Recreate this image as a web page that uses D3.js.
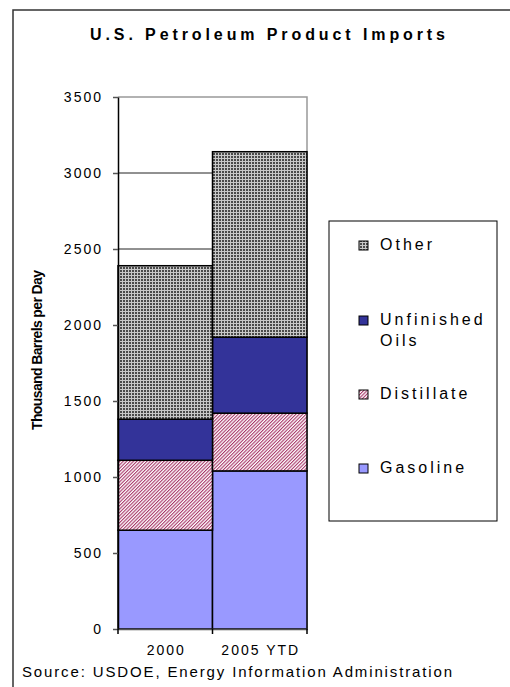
<!DOCTYPE html>
<html>
<head>
    <meta charset="utf-8">
    <script src="https://d3js.org/d3.v7.min.js"></script>
    <style>
        body { margin: 0; background: #fff; }
        text { font-family: Arial, "Liberation Sans", sans-serif; }
    </style>
</head>
<body>
    <svg id="chart" width="510" height="687"></svg>
    <script>
        var svg = d3.select("#chart");

        // data (thousand barrels per day)
        var categories = ["2000", "2005 YTD"];
        var seriesNames = ["Gasoline", "Distillate", "Unfinished Oils", "Other"];
        var gasoline = [650, 1040];
        var distillate = [460, 380];
        var unfinished = [270, 500];
        var other = [1010, 1220];
        var yTicks = [0, 500, 1000, 1500, 2000, 2500, 3000, 3500];

        var rows = categories.map(function (c, i) {
            return { cat: c, "Gasoline": gasoline[i], "Distillate": distillate[i], "Unfinished Oils": unfinished[i], "Other": other[i] };
        });

        var plot = { left: 118, right: 307, top: 97, bottom: 629 };

        var x = d3.scaleBand().domain(categories).range([plot.left, plot.right]).padding(0);
        var y = d3.scaleLinear().domain([0, 3500]).range([plot.bottom, plot.top]);

        // fills: plain colours and two hatch patterns
        var defs = svg.append("defs");
        var grid = defs.append("pattern").attr("id", "pOther")
            .attr("width", 3).attr("height", 3).attr("patternUnits", "userSpaceOnUse");
        grid.append("rect").attr("width", 3).attr("height", 3).attr("fill", "#c8c8c8");
        grid.append("rect").attr("width", 2).attr("height", 2).attr("fill", "#4a4a4a");

        var hatch = defs.append("pattern").attr("id", "pDist")
            .attr("width", 2.4).attr("height", 3).attr("patternUnits", "userSpaceOnUse")
            .attr("patternTransform", "rotate(45)");
        hatch.append("rect").attr("width", 2.4).attr("height", 3).attr("fill", "#fff");
        hatch.append("rect").attr("width", 1.1).attr("height", 3).attr("fill", "#a8386a");

        var fills = {
            "Gasoline": "#9999ff",
            "Distillate": "url(#pDist)",
            "Unfinished Oils": "#333399",
            "Other": "url(#pOther)"
        };

        // outer frame
        svg.append("path").attr("d", "M13,687V10H510")
            .attr("fill", "none").attr("stroke", "#333").attr("stroke-width", 1.5);

        // title
        svg.append("text").attr("x", 90).attr("y", 40)
            .attr("textLength", 355).attr("lengthAdjust", "spacing")
            .style("font-size", "16px").style("font-weight", "bold")
            .text("U.S. Petroleum Product Imports");

        // gridlines
        svg.append("g").selectAll("line")
            .data(yTicks.filter(function (d) { return d > 0 && d < 3500; }))
            .enter().append("line")
            .attr("x1", plot.left).attr("x2", plot.right)
            .attr("y1", function (d) { return y(d); }).attr("y2", function (d) { return y(d); })
            .attr("stroke", "#222").attr("stroke-width", 1);

        // plot border top / right
        svg.append("path")
            .attr("d", "M" + plot.left + "," + plot.top + "H" + plot.right + "V" + plot.bottom)
            .attr("fill", "none").attr("stroke", "#999").attr("stroke-width", 1.5);

        // stacked bars
        var stacked = d3.stack().keys(seriesNames)(rows);
        svg.append("g").selectAll("g")
            .data(stacked)
            .enter().append("g")
            .attr("fill", function (s) { return fills[s.key]; })
            .selectAll("rect")
            .data(function (s) { return s; })
            .enter().append("rect")
            .attr("x", function (d) { return x(d.data.cat); })
            .attr("width", x.bandwidth())
            .attr("y", function (d) { return y(d[1]); })
            .attr("height", function (d) { return y(d[0]) - y(d[1]); })
            .attr("stroke", "#000").attr("stroke-width", 1.5);

        // y axis
        var yAxis = svg.append("g")
            .attr("transform", "translate(" + plot.left + ",0)")
            .call(d3.axisLeft(y).tickValues(yTicks).tickFormat(d3.format("d"))
                .tickSize(5).tickPadding(10).tickSizeOuter(0));
        yAxis.select(".domain").attr("stroke", "#000").attr("stroke-width", 1.5);
        yAxis.selectAll(".tick line").attr("stroke", "#555").attr("stroke-width", 1.5);
        yAxis.selectAll(".tick text")
            .attr("x", -15)
            .style("font-family", "Arial, 'Liberation Sans', sans-serif")
            .style("font-size", "14px").style("letter-spacing", "2px").attr("fill", "#000");

        // x axis: labels centred, ticks at category boundaries
        var xAxis = svg.append("g")
            .attr("transform", "translate(0," + plot.bottom + ")")
            .call(d3.axisBottom(x).tickSize(0).tickPadding(16));
        xAxis.select(".domain").attr("stroke", "#555").attr("stroke-width", 1.5);
        xAxis.selectAll(".tick text")
            .attr("dx", "1px")
            .style("font-family", "Arial, 'Liberation Sans', sans-serif")
            .style("font-size", "14px").style("letter-spacing", "2px").attr("fill", "#000");
        xAxis.selectAll(".edge")
            .data(d3.range(categories.length + 1))
            .enter().append("line")
            .attr("class", "edge")
            .attr("x1", function (i) { return plot.left + i * x.step(); })
            .attr("x2", function (i) { return plot.left + i * x.step(); })
            .attr("y1", 0).attr("y2", 5)
            .attr("stroke", "#000").attr("stroke-width", 1.5);

        // y axis title
        svg.append("text")
            .attr("transform", "translate(42,350) rotate(-90)")
            .attr("text-anchor", "middle")
            .attr("textLength", 160).attr("lengthAdjust", "spacing")
            .style("font-size", "14px").style("font-weight", "bold")
            .text("Thousand Barrels per Day");

        // legend
        var legend = svg.append("g");
        legend.append("rect").attr("x", 329).attr("y", 221).attr("width", 168).attr("height", 300)
            .attr("fill", "#fff").attr("stroke", "#000").attr("stroke-width", 1);
        var legendItems = [
            { key: "Other", lines: ["Other"], y: 250 },
            { key: "Unfinished Oils", lines: ["Unfinished", "Oils"], y: 325 },
            { key: "Distillate", lines: ["Distillate"], y: 399 },
            { key: "Gasoline", lines: ["Gasoline"], y: 473 }
        ];
        var li = legend.selectAll(".item").data(legendItems).enter().append("g").attr("class", "item");
        li.append("rect")
            .attr("x", 359).attr("y", function (d) { return d.y - 9; })
            .attr("width", 9).attr("height", 9)
            .attr("fill", function (d) { return fills[d.key]; })
            .attr("stroke", "#000").attr("stroke-width", 1);
        li.append("text")
            .attr("x", 380).attr("y", function (d) { return d.y; })
            .style("font-size", "16px").style("letter-spacing", "3px")
            .selectAll("tspan")
            .data(function (d) { return d.lines; })
            .enter().append("tspan")
            .attr("x", 380).attr("dy", function (d, i) { return i === 0 ? 0 : 21; })
            .text(function (d) { return d; });

        // source note
        svg.append("text").attr("x", 22).attr("y", 677)
            .attr("textLength", 430).attr("lengthAdjust", "spacing")
            .style("font-size", "15px")
            .text("Source: USDOE, Energy Information Administration");
    </script>
</body>
</html>
